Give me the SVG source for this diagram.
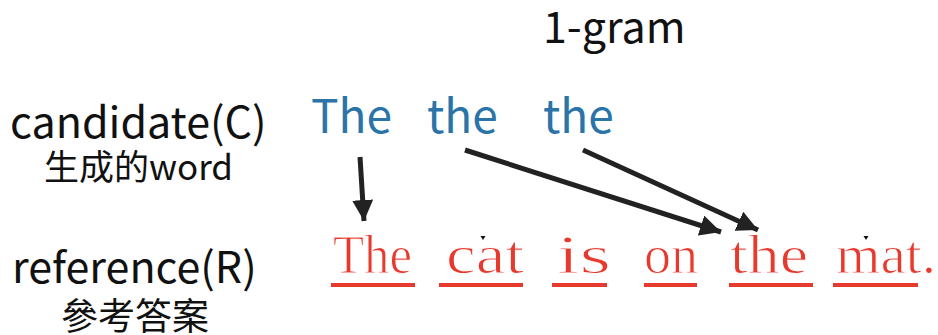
<svg xmlns="http://www.w3.org/2000/svg" width="938" height="335" viewBox="0 0 938 335">
<style>
.lab{font-family:"Noto Sans CJK SC","Noto Sans",sans-serif;fill:#111}
.cand{font-family:"Noto Sans CJK SC","Noto Sans",sans-serif;fill:#2a74a8;font-size:46px}
.ref{font-family:"Liberation Serif","DejaVu Serif",serif;fill:#e63a2e;font-size:54px;stroke:#fff;stroke-width:1}
.ul{stroke:#e63a2e;stroke-width:4}
.arr{stroke:#222;stroke-width:5;fill:none}
</style>
<defs>
<marker id="ah" viewBox="0 0 10 10" refX="10" refY="5" markerWidth="4.2" markerHeight="4.2" markerUnits="strokeWidth" orient="auto">
<path d="M0,0 L10,5 L0,10 Z" fill="#222"/>
</marker>
</defs>
<g id="title"><text class="lab" x="543" y="43" font-size="43">1-gram</text></g>
<g id="label-candidate">
<text class="lab" x="10" y="138" font-size="43">candidate(C)</text>
<text class="lab" x="44" y="180" font-size="35">生成的word</text>
</g>
<g id="label-reference">
<text class="lab" x="12" y="283" font-size="43">reference(R)</text>
<text class="lab" x="61" y="330" font-size="37">參考答案</text>
</g>
<g id="candidate">
<text class="cand" x="311" y="133">The</text>
<text class="cand" x="427" y="133">the</text>
<text class="cand" x="543" y="133">the</text>
</g>
<g id="reference">
<text class="ref" x="333" y="273" textLength="79" lengthAdjust="spacingAndGlyphs">The</text>
<text class="ref" x="446" y="273" textLength="78" lengthAdjust="spacingAndGlyphs">cat</text>
<text class="ref" x="557" y="273" textLength="54" lengthAdjust="spacingAndGlyphs">is</text>
<text class="ref" x="644" y="273" textLength="54" lengthAdjust="spacingAndGlyphs">on</text>
<text class="ref" x="730" y="273" textLength="78" lengthAdjust="spacingAndGlyphs">the</text>
<text class="ref" x="836" y="273" textLength="100" lengthAdjust="spacingAndGlyphs">mat.</text>
<line class="ul" x1="331" y1="285" x2="415" y2="285"/>
<line class="ul" x1="439" y1="285" x2="523" y2="285"/>
<line class="ul" x1="552" y1="285" x2="607" y2="285"/>
<line class="ul" x1="644" y1="285" x2="697" y2="285"/>
<line class="ul" x1="729" y1="285" x2="813" y2="285"/>
<line class="ul" x1="833" y1="285" x2="918" y2="285"/>
<path d="M480.5,236 L485.5,236 L483,240 Z" fill="#111"/>
<path d="M863.5,236 L868.5,236 L866,240 Z" fill="#111"/>
</g>
<g id="connectors">
<line class="arr" x1="360" y1="157" x2="364" y2="221" marker-end="url(#ah)"/>
<line class="arr" x1="465" y1="150" x2="721" y2="232" marker-end="url(#ah)"/>
<line class="arr" x1="583" y1="150" x2="758" y2="230" marker-end="url(#ah)"/>
</g>
</svg>
